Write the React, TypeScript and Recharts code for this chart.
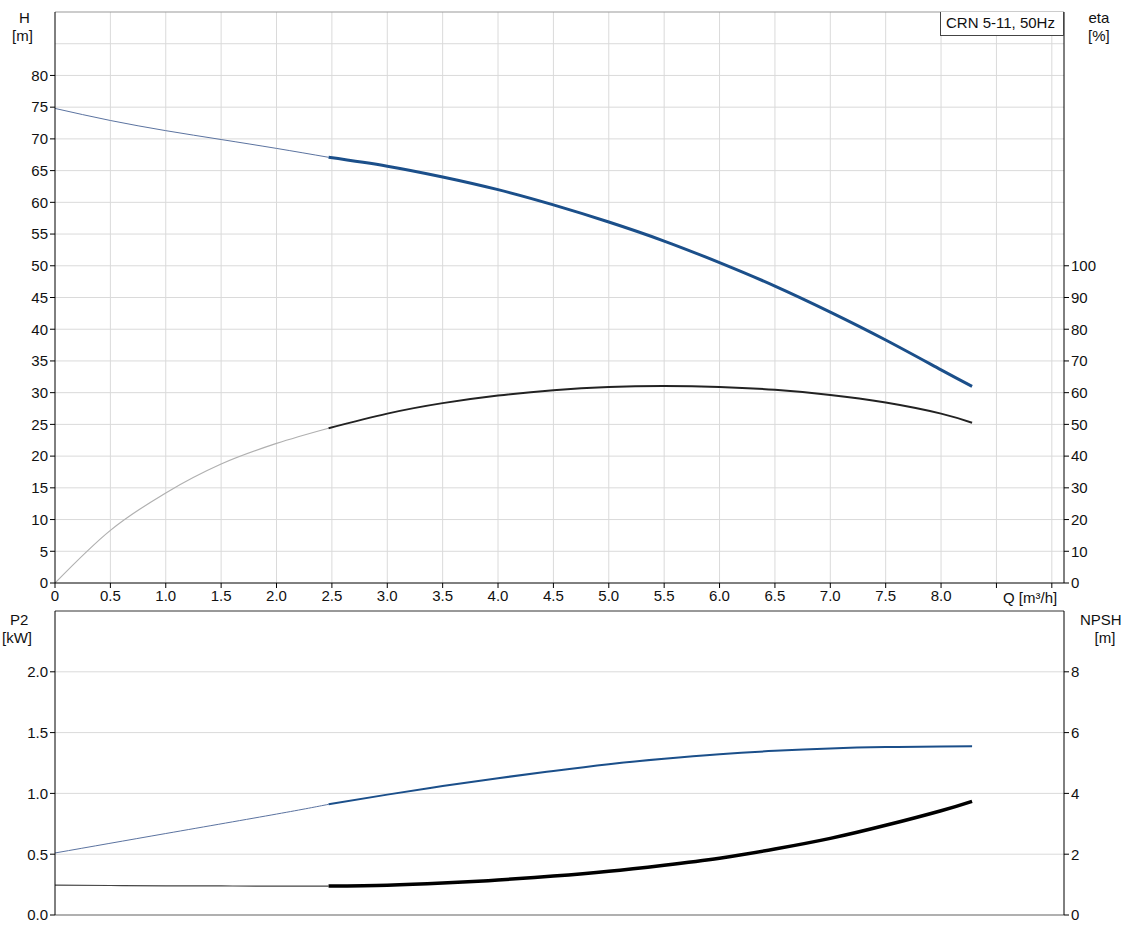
import React from "react";
import { LineChart, Line, XAxis, YAxis, CartesianGrid, ReferenceLine } from "recharts";

const qTicks = [0, 0.5, 1, 1.5, 2, 2.5, 3, 3.5, 4, 4.5, 5, 5.5, 6, 6.5, 7, 7.5, 8, 8.5, 9];
const qGrid = [0.5, 1, 1.5, 2, 2.5, 3, 3.5, 4, 4.5, 5, 5.5, 6, 6.5, 7, 7.5, 8, 8.5, 9];
const hTicks = [0, 5, 10, 15, 20, 25, 30, 35, 40, 45, 50, 55, 60, 65, 70, 75, 80];
const hGrid = [5, 10, 15, 20, 25, 30, 35, 40, 45, 50, 55, 60, 65, 70, 75, 80, 85];
const etaTicks = [0, 10, 20, 30, 40, 50, 60, 70, 80, 90, 100];
const p2Ticks = [0, 0.5, 1, 1.5, 2];
const p2Grid = [0.5, 1, 1.5, 2];
const npshTicks = [0, 2, 4, 6, 8];

const hThinQ = [0, 0.5, 1, 1.5, 2, 2.47];
const hThinV = [74.8, 72.9, 71.3, 69.9, 68.5, 67.1];
const hQ = [2.47, 3, 3.5, 4, 4.5, 5, 5.5, 6, 6.5, 7, 7.5, 8, 8.28];
const hV = [67.1, 65.7, 64.0, 62.0, 59.6, 56.9, 53.9, 50.5, 46.8, 42.7, 38.3, 33.6, 31.0];

const etaThinQ = [0, 0.5, 1, 1.5, 2, 2.47];
const etaThinV = [0, 16.6, 28.4, 37.5, 44, 48.8];
const etaQ = [2.47, 3, 3.5, 4, 4.5, 5, 5.5, 6, 6.5, 7, 7.5, 8, 8.28];
const etaV = [48.8, 53.4, 56.7, 59.1, 60.8, 61.8, 62.1, 61.8, 60.9, 59.3, 56.9, 53.4, 50.5];

const p2ThinQ = [0, 1, 2, 2.47];
const p2ThinV = [0.51, 0.67, 0.83, 0.91];
const p2Q = [2.47, 3, 3.5, 4, 4.5, 5, 5.5, 6, 6.5, 7, 7.5, 8, 8.28];
const p2V = [0.91, 0.99, 1.06, 1.125, 1.185, 1.24, 1.285, 1.322, 1.35, 1.37, 1.381, 1.386, 1.387];

const npshThinQ = [0, 0.5, 1, 1.5, 2, 2.47];
const npshThinV = [0.98, 0.97, 0.96, 0.955, 0.95, 0.95];
const npshQ = [2.47, 3, 3.5, 4, 4.5, 5, 5.5, 6, 6.5, 7, 7.5, 8, 8.28];
const npshV = [0.95, 0.98, 1.05, 1.15, 1.28, 1.44, 1.64, 1.87, 2.17, 2.52, 2.95, 3.43, 3.74];

const zip = (q: number[], v: number[]) => q.map((x, i) => ({ q: x, v: v[i] }));

const FONT = "'Liberation Sans', Arial, sans-serif";
const FS = 15;
const W = 1127;
const X_DOMAIN: [number, number] = [0, 9.11];

const XTick = (props: any) => {
  const { x, y, payload } = props;
  const val = payload.value as number;
  if (val > 8) return <g />;
  const label = val === 0 ? "0" : val.toFixed(1);
  return (
    <text x={x} y={y + 11} textAnchor="middle" fontSize={FS} fontFamily={FONT} fill="#111">
      {label}
    </text>
  );
};

const tickStyle = { fontSize: FS, fontFamily: FONT, fill: "#111" };

const Label = ({ left, top, text, align }: { left: number; top: number; text: string; align?: any }) => (
  <div
    style={{
      position: "absolute",
      left,
      top,
      fontFamily: FONT,
      fontSize: FS,
      color: "#111",
      lineHeight: "18px",
      textAlign: align || "center",
      whiteSpace: "pre",
    }}
  >
    {text}
  </div>
);

export default function App() {
  return (
    <div style={{ position: "absolute", left: 0, top: 0, width: W, height: 942, background: "#fff" }}>
      <div style={{ position: "absolute", left: 0, top: 0 }}>
        <LineChart width={W} height={610} margin={{ top: 12, right: 23, left: 15, bottom: 0 }}>
          <CartesianGrid stroke="#dadada" horizontalValues={hGrid} verticalValues={qGrid} yAxisId="h" />
          <XAxis
            dataKey="q"
            type="number"
            domain={X_DOMAIN}
            ticks={qTicks}
            allowDataOverflow
            height={27}
            stroke="#000"
            tick={<XTick />}
            tickSize={5}
          />
          <YAxis yAxisId="h" domain={[0, 90]} ticks={hTicks} width={40} stroke="#000" tick={tickStyle} tickSize={5} allowDataOverflow />
          <YAxis yAxisId="eta" orientation="right" domain={[0, 180]} ticks={etaTicks} width={40} stroke="#000" tick={tickStyle} tickSize={5} allowDataOverflow />
          <ReferenceLine yAxisId="h" y={90} stroke="#999" />
          <Line yAxisId="eta" data={zip(etaThinQ, etaThinV)} dataKey="v" type="monotone" stroke="#b0b0b0" strokeWidth={1.2} dot={false} isAnimationActive={false} />
          <Line yAxisId="eta" data={zip(etaQ, etaV)} dataKey="v" type="natural" stroke="#222" strokeWidth={2} dot={false} isAnimationActive={false} />
          <Line yAxisId="h" data={zip(hThinQ, hThinV)} dataKey="v" type="natural" stroke="#5b73a0" strokeWidth={1} dot={false} isAnimationActive={false} />
          <Line yAxisId="h" data={zip(hQ, hV)} dataKey="v" type="natural" stroke="#1b4f8a" strokeWidth={3} dot={false} isAnimationActive={false} />
        </LineChart>
      </div>
      <div style={{ position: "absolute", left: 0, top: 600 }}>
        <LineChart width={W} height={342} margin={{ top: 11, right: 23, left: 15, bottom: 26 }}>
          <CartesianGrid stroke="#dadada" horizontalValues={p2Grid} verticalValues={qGrid} yAxisId="p2" />
          <XAxis
            dataKey="q"
            type="number"
            domain={X_DOMAIN}
            ticks={qTicks}
            allowDataOverflow
            height={1}
            stroke="#b0b0b0"
            strokeWidth={2}
            tick={false}
            tickLine={false}
          />
          <YAxis yAxisId="p2" domain={[0, 2.5]} ticks={p2Ticks} width={40} stroke="#000" tick={tickStyle} tickSize={5} tickFormatter={(v: number) => v.toFixed(1)} allowDataOverflow />
          <YAxis yAxisId="npsh" orientation="right" domain={[0, 10]} ticks={npshTicks} width={40} stroke="#000" tick={tickStyle} tickSize={5} allowDataOverflow />
          <ReferenceLine yAxisId="p2" y={2.5} stroke="#333" />
          <Line yAxisId="npsh" data={zip(npshThinQ, npshThinV)} dataKey="v" type="natural" stroke="#444" strokeWidth={1.2} dot={false} isAnimationActive={false} />
          <Line yAxisId="npsh" data={zip(npshQ, npshV)} dataKey="v" type="natural" stroke="#000" strokeWidth={3.5} dot={false} isAnimationActive={false} />
          <Line yAxisId="p2" data={zip(p2ThinQ, p2ThinV)} dataKey="v" type="natural" stroke="#5b73a0" strokeWidth={1} dot={false} isAnimationActive={false} />
          <Line yAxisId="p2" data={zip(p2Q, p2V)} dataKey="v" type="natural" stroke="#1b4f8a" strokeWidth={2} dot={false} isAnimationActive={false} />
        </LineChart>
      </div>
      <Label left={12} top={9} text={" H\n[m]"} />
      <Label left={1088} top={9} text={"eta\n[%]"} />
      <Label left={2} top={611} text={" P2\n[kW]"} />
      <Label left={1080} top={611} text={"NPSH\n  [m]"} />
      <div style={{ position: "absolute", left: 1003, top: 589, fontFamily: FONT, fontSize: FS, color: "#111" }}>Q [m³/h]</div>
      <div
        style={{
          position: "absolute",
          left: 940,
          top: 12,
          width: 124,
          height: 24,
          border: "1px solid #444",
          borderTop: "none",
          background: "#fff",
          boxSizing: "border-box",
          fontFamily: FONT,
          fontSize: FS,
          color: "#111",
          paddingLeft: 5,
          lineHeight: "22px",
        }}
      >
        CRN 5-11, 50Hz
      </div>
    </div>
  );
}
